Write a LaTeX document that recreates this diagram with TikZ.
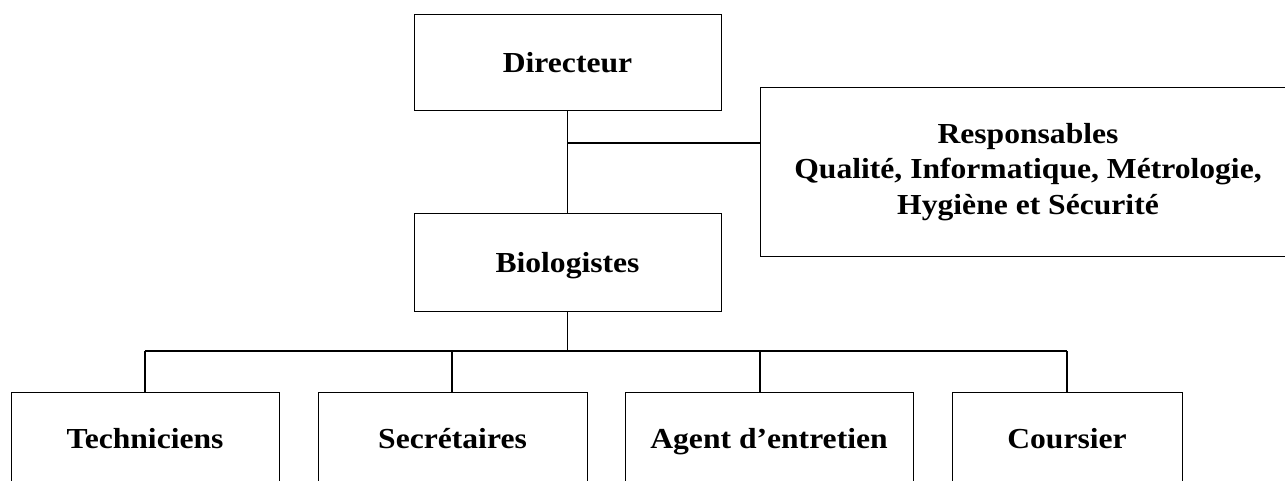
\documentclass[tikz,border=0pt]{standalone}
\usepackage{fontspec}
\setmainfont[FakeStretch=1.09]{Liberation Serif}
\usetikzlibrary{positioning}

\begin{document}
\begin{tikzpicture}[x=1pt,y=-1pt]
\tikzstyle{every node}=[font=\fontsize{29}{35.5}\selectfont\bfseries]
\tikzstyle{box}=[draw,line width=1pt,inner sep=0pt,outer sep=0pt]
\tikzstyle{oneline}=[text height=19pt,text depth=0pt]
\tikzstyle{link}=[line width=1.6pt]

\clip (0,0) rectangle (1285,481);

\node[box,oneline,minimum width=307pt,minimum height=96pt] (D) at (567.5,63) {Directeur};
\node[box,oneline,minimum width=307pt,minimum height=97pt,below=103pt of D] (B) {Biologistes};
\node[box,align=center,minimum width=536pt,minimum height=168pt] (R) at (1028,172)
  {Responsables\\Qualité, Informatique, Métrologie,\\Hygiène et Sécurité};

\node[box,oneline,minimum width=268pt,minimum height=94pt] (T) at (145,439) {Techniciens};
\node[box,oneline,minimum width=269pt,minimum height=94pt] (S) at (452.5,439) {Secrétaires};
\node[box,oneline,minimum width=288pt,minimum height=94pt] (A) at (769,439) {Agent d’entretien};
\node[box,oneline,minimum width=230pt,minimum height=94pt] (C) at (1067,439) {Coursier};

\coordinate (j) at (567.5,143);
\draw[link] (D.south) -- (B.north);
\draw[link] (j) -- (j -| R.west);

\foreach \n/\x in {T/145,S/452,A/760,C/1067} {
  \coordinate (t\n) at (\x,351);
  \draw[link] (t\n) -- (t\n |- \n.north);
}
\draw[link] (tT) -- (tC);
\draw[link] (B.south) -- (B.south |- tT);
\end{tikzpicture}
\end{document}
